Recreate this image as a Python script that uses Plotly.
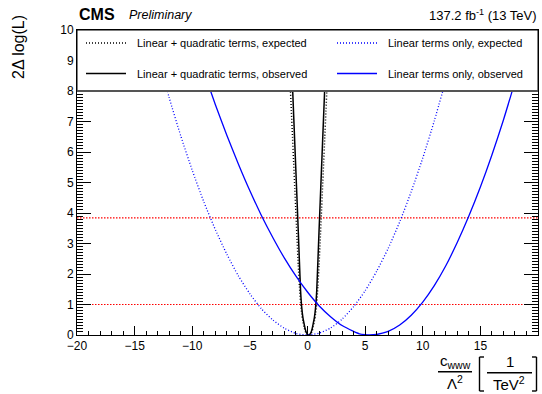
import plotly.graph_objects as go

# Profile likelihood scans in c_WWW / Lambda^2
# Linear + quadratic terms, expected
lq_exp_x = [-1.6, -1.5, -1.4, -1.3, -1.2, -1.1, -1.0, -0.9, -0.8, -0.7, -0.6, -0.5,
            -0.4, -0.3, -0.2, -0.1, 0.0, 0.1, 0.2, 0.3, 0.4, 0.5, 0.6, 0.7, 0.8,
            0.9, 1.0, 1.1, 1.2, 1.3, 1.4, 1.5, 1.6, 1.7, 1.8]
lq_exp_y = [9.05, 8.2, 7.35, 6.5, 5.65, 4.8, 3.95, 3.1, 2.3, 1.6, 1.05, 0.7,
            0.45, 0.27, 0.13, 0.05, 0.01, 0.0, 0.01, 0.05, 0.13, 0.27, 0.45, 0.7, 1.05,
            1.6, 2.3, 3.1, 3.95, 4.8, 5.65, 6.5, 7.35, 8.2, 9.05]

# Linear + quadratic terms, observed
lq_obs_x = [-1.4, -1.3, -1.2, -1.1, -1.0, -0.9, -0.8, -0.7, -0.6, -0.5, -0.4, -0.3,
            -0.2, -0.1, 0.0, 0.1, 0.2, 0.3, 0.4, 0.5, 0.6, 0.7, 0.8, 0.9, 1.0,
            1.1, 1.2, 1.3, 1.4, 1.5, 1.6]
lq_obs_y = [9.1, 8.15, 7.2, 6.25, 5.3, 4.35, 3.4, 2.4, 1.45, 0.9, 0.58, 0.38,
            0.2, 0.08, 0.02, 0.0, 0.02, 0.08, 0.2, 0.38, 0.58, 0.9, 1.45, 2.4, 3.4,
            4.35, 5.3, 6.25, 7.2, 8.15, 9.1]

# Linear terms only, expected
lin_exp_x = [-13, -12, -11, -10, -9, -8, -7, -6, -5, -4, -3, -2, -1, 0,
             1, 2, 3, 4, 5, 6, 7, 8, 9, 10, 11, 12]
lin_exp_y = [9.13, 7.78, 6.53, 5.4, 4.37, 3.46, 2.65, 1.94, 1.35, 0.86, 0.49, 0.22, 0.05, 0.0,
             0.06, 0.23, 0.52, 0.93, 1.45, 2.09, 2.84, 3.71, 4.7, 5.8, 7.02, 8.35]

# Linear terms only, observed
lin_obs_x = [-9, -8, -7, -6, -5, -4, -3, -2, -1, 0, 1, 2, 3, 4, 4.5, 5, 5.4,
             6, 6.5, 7, 8, 9, 10, 11, 12, 13, 14, 15, 16, 17, 18]
lin_obs_y = [8.64, 7.56, 6.55, 5.61, 4.73, 3.92, 3.19, 2.52, 1.93, 1.41, 0.96, 0.6, 0.31, 0.12, 0.04, 0.01, 0.0,
             0.016, 0.06, 0.12, 0.33, 0.65, 1.08, 1.62, 2.27, 3.04, 3.9, 4.85, 5.9, 7.05, 8.3]

# Reference levels (68% and 95% CL)
cl_levels = [1.0, 3.84]

x_range = [-20, 20]
y_range = [0, 10]
x_tick_vals = [-20, -15, -10, -5, 0, 5, 10, 15, 20]
x_tick_text = ["\u221220", "\u221215", "\u221210", "\u22125", "0", "5", "10", "15", "20"]
y_tick_vals = [0, 1, 2, 3, 4, 5, 6, 7, 8, 9, 10]

legend_labels = [
    "Linear + quadratic terms, expected",
    "Linear + quadratic terms, observed",
    "Linear terms only, expected",
    "Linear terms only, observed",
]

FONT = "Liberation Sans, Arial, Helvetica, sans-serif"
W, H = 542, 394
ML, MR, MT, MB = 77, 4, 30, 59
PW, PH = W - ML - MR, H - MT - MB


def px_x(px):
    return (px - ML) / PW


def px_y(py):
    return (H - MB - py) / PH


DOT = "1px,2px"

fig = go.Figure()

for lvl in cl_levels:
    fig.add_trace(go.Scatter(x=x_range, y=[lvl, lvl], mode="lines",
                             line=dict(color="rgb(255,0,0)", width=1.2, dash="1.5px,1.5px"),
                             showlegend=False, hoverinfo="skip"))

series = [
    (lq_exp_x, lq_exp_y, "black", DOT, 1.5),
    (lq_obs_x, lq_obs_y, "black", "solid", 1.5),
    (lin_exp_x, lin_exp_y, "#0000ff", DOT, 1.3),
    (lin_obs_x, lin_obs_y, "#0000ff", "solid", 1.3),
]
for (xs, ys, col, dash, lw), name in zip(series, legend_labels):
    fig.add_trace(go.Scatter(x=xs, y=ys, mode="lines", name=name,
                             line=dict(color=col, width=lw, dash=dash, shape="spline", smoothing=0.6),
                             showlegend=False))

shapes = []
# legend panel covering the top of the frame
shapes.append(dict(type="rect", xref="x", yref="y", x0=-20, x1=20, y0=8, y1=10,
                   fillcolor="white", line=dict(color="black", width=1), layer="above"))
shapes.append(dict(type="line", xref="x", yref="y", x0=-20, x1=20, y0=8, y1=8,
                   line=dict(color="#555555", width=2), layer="above"))

annotations = []
# legend entries: (sample start px, text start px, row y px)
entry_pos = [(86, 135, 43), (86, 135, 73.5), (337, 386, 43), (337, 386, 73.5)]
for (xs, ys, col, dash, lw), name, (sx, tx, ry) in zip(series, legend_labels, entry_pos):
    shapes.append(dict(type="line", xref="paper", yref="paper",
                       x0=px_x(sx), x1=px_x(sx + 40), y0=px_y(ry), y1=px_y(ry),
                       line=dict(color=col, width=lw, dash=dash), layer="above"))
    annotations.append(dict(text=name, x=px_x(tx), y=px_y(ry), xref="paper", yref="paper",
                            xanchor="left", yanchor="middle", showarrow=False,
                            font=dict(family=FONT, size=11, color="black")))

# header
annotations.append(dict(text="<b>CMS</b>", x=px_x(77), y=px_y(25), xref="paper", yref="paper",
                        xanchor="left", yanchor="bottom", showarrow=False,
                        font=dict(family=FONT, size=16, color="black")))
annotations.append(dict(text="<i>Preliminary</i>", x=px_x(127), y=px_y(24.5), xref="paper", yref="paper",
                        xanchor="left", yanchor="bottom", showarrow=False,
                        font=dict(family=FONT, size=12.5, color="black")))
annotations.append(dict(text="137.2 fb<sup>-1</sup> (13 TeV)", x=px_x(539), y=px_y(25), xref="paper",
                        yref="paper", xanchor="right", yanchor="bottom", showarrow=False,
                        font=dict(family=FONT, size=13, color="black")))

# y-axis title
annotations.append(dict(text="2\u0394 log(L)", x=px_x(18), y=px_y(13), xref="paper", yref="paper",
                        xanchor="center", yanchor="top", textangle=-90, showarrow=False,
                        font=dict(family=FONT, size=16, color="black")))

# x-axis title: c_www / Lambda^2 [1 / TeV^2]
annotations.append(dict(text="c<sub>www</sub>", x=px_x(455), y=px_y(373), xref="paper", yref="paper",
                        xanchor="center", yanchor="bottom", showarrow=False,
                        font=dict(family=FONT, size=15, color="black")))
annotations.append(dict(text="\u039b<sup>2</sup>", x=px_x(455), y=px_y(371), xref="paper", yref="paper",
                        xanchor="center", yanchor="top", showarrow=False,
                        font=dict(family=FONT, size=15, color="black")))
annotations.append(dict(text="1", x=px_x(510), y=px_y(372), xref="paper", yref="paper",
                        xanchor="center", yanchor="bottom", showarrow=False,
                        font=dict(family=FONT, size=15, color="black")))
annotations.append(dict(text="TeV<sup>2</sup>", x=px_x(509), y=px_y(372), xref="paper", yref="paper",
                        xanchor="center", yanchor="top", showarrow=False,
                        font=dict(family=FONT, size=15, color="black")))

title_lines = [
    (438, 472, 371.7, 371.7),   # fraction bar left
    (487, 532, 372.7, 372.7),   # fraction bar right
    (479.5, 479.5, 357, 391),   # [
    (479.5, 484, 357, 357),
    (479.5, 484, 391, 391),
    (536.5, 536.5, 357, 391),   # ]
    (532, 536.5, 357, 357),
    (532, 536.5, 391, 391),
]
for x0, x1, y0, y1 in title_lines:
    shapes.append(dict(type="line", xref="paper", yref="paper",
                       x0=px_x(x0), x1=px_x(x1), y0=px_y(y0), y1=px_y(y1),
                       line=dict(color="black", width=1.4)))

fig.update_layout(
    width=W, height=H,
    margin=dict(l=ML, r=MR, t=MT, b=MB, pad=0),
    paper_bgcolor="white", plot_bgcolor="white",
    font=dict(family=FONT, size=12, color="black"),
    shapes=shapes, annotations=annotations,
    showlegend=False,
)
fig.update_xaxes(
    range=x_range, tickmode="array", tickvals=x_tick_vals, ticktext=x_tick_text,
    ticks="inside", ticklen=9, tickwidth=1, tickcolor="black",
    minor=dict(dtick=1, ticklen=4, tickwidth=1, tickcolor="black", ticks="inside"),
    showline=True, linecolor="black", linewidth=1, mirror="allticks",
    showgrid=False, zeroline=False, tickfont=dict(size=12, family=FONT),
)
fig.update_yaxes(
    range=y_range, tickmode="array", tickvals=y_tick_vals,
    ticks="inside", ticklen=14, tickwidth=1, tickcolor="black",
    minor=dict(dtick=0.1, ticklen=6, tickwidth=1, tickcolor="black", ticks="inside"),
    showline=True, linecolor="black", linewidth=1, mirror="allticks",
    showgrid=False, zeroline=False, tickfont=dict(size=12, family=FONT),
)

fig.write_html("out.html")
